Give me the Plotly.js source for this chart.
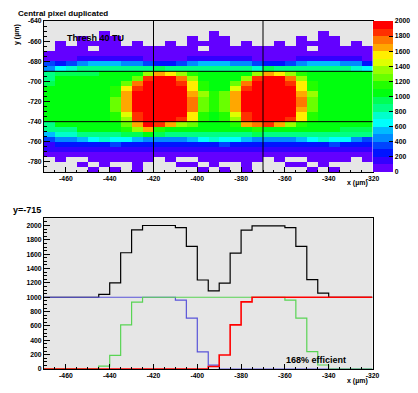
<!DOCTYPE html>
<html><head><meta charset="utf-8">
<script src="https://cdn.plot.ly/plotly-3.0.1.min.js"></script>
<style>html,body{margin:0;padding:0;background:#fff;}#chart{width:418px;height:393px;}</style>
</head><body><div id="chart"></div>
<script>
const _ = null;
// bin edges (µm)
const xEdges = [-470,-465,-460,-455,-450,-445,-440,-435,-430,-425,-420,-415,-410,-405,-400,-395,-390,-385,-380,-375,-370,-365,-360,-355,-350,-345,-340,-335,-330,-325,-320];
const yEdgesTopDown = [-640,-645,-650,-655,-660,-665,-670,-675,-680,-685,-690,-695,-700,-705,-710,-715,-720,-725,-730,-735,-740,-745,-750,-755,-760,-765,-770,-775,-780,-785,-790];
// heatmap contents, rows from top (y=-640) to bottom (y=-790)
const zRowsTopDown = [
[_,_,_,_,_,_,_,_,_,_, _,_,_,_,_,_,_,_,_,_, _,_,_,_,_,_,_,_,_,_],
[_,_,_,_,_,_,_,_,_,_, _,_,_,_,_,_,_,_,_,_, _,_,_,_,_,_,_,_,_,_],
[_,_,_,_,_,50,_,_,_,_, _,_,_,_,_,50,_,_,_,_, _,_,_,_,_,50,_,_,_,_],
[_,_,_,50,_,50,50,_,_,_, _,_,_,50,_,50,50,_,_,_, _,_,_,50,_,50,50,_,_,_],
[_,50,_,50,50,50,50,_,50,_, _,50,_,50,50,50,50,_,50,_, _,50,_,50,50,50,50,_,50,_],
[_,50,50,50,_,50,50,50,50,50, 50,50,50,50,_,50,50,50,50,50, 50,50,50,50,_,50,50,50,50,50],
[50,50,50,50,50,50,50,50,50,50, 50,50,50,50,50,50,50,50,50,50, 50,50,50,50,50,50,50,50,50,50],
[50,50,50,150,150,150,150,150,150,50, 50,50,50,150,150,150,150,150,150,50, 50,50,50,150,150,150,150,150,150,50],
[350,250,350,450,550,550,550,450,450,350, 250,250,350,450,550,550,550,450,450,350, 250,250,350,450,550,550,550,450,450,250],
[450,650,750,850,850,850,850,850,850,850, 950,850,850,850,850,850,850,850,850,750, 950,850,850,850,850,850,850,850,750,650],
[850,950,950,950,950,1050,1050,1050,1050,1350, 1650,1550,1350,1150,1050,1050,1050,1050,1050,1350, 1650,1550,1350,1150,1050,1050,1050,1050,1050,1050],
[850,1050,1050,1050,1050,1050,1050,1050,1250,1850, 1950,1950,1750,1350,1050,1050,1050,1050,1350,1850, 1950,1950,1750,1350,1050,1050,1050,1050,1050,1050],
[950,1050,1050,1050,1050,1050,1050,1250,1750,1950, 1950,1950,1850,1550,1150,1050,1050,1250,1750,1950, 1950,1950,1850,1550,1150,1050,1050,1050,1050,1050],
[1050,1050,1050,1050,1050,1050,1150,1550,1850,1950, 1950,1950,1950,1550,1150,1050,1050,1450,1850,1950, 1950,1950,1950,1550,1150,1050,1050,1050,1050,1050],
[1050,1050,1050,1050,1050,1050,1150,1650,1950,1950, 1950,1950,1950,1650,1350,1150,1250,1650,1950,1950, 1950,1950,1950,1650,1350,1050,1050,1050,1050,1050],
[1050,1050,1050,1050,1050,1050,1250,1650,1950,1950, 1950,1950,1950,1750,1250,1150,1250,1650,1950,1950, 1950,1950,1950,1750,1250,1050,1050,1050,1050,1050],
[1050,1050,1050,1050,1050,1050,1250,1650,1950,1950, 1950,1950,1950,1750,1250,1150,1250,1650,1950,1950, 1950,1950,1950,1750,1250,1050,1050,1050,1050,1050],
[1050,1050,1050,1050,1050,1050,1250,1650,1950,1950, 1950,1950,1950,1750,1250,1150,1250,1650,1950,1950, 1950,1950,1950,1650,1250,1050,1050,1050,1050,1050],
[1050,1050,1050,1050,1050,1050,1150,1450,1850,1950, 1950,1950,1950,1550,1150,1050,1150,1450,1850,1950, 1950,1950,1950,1550,1150,1050,1050,1050,1050,1050],
[1050,1050,1050,1050,1050,1050,1150,1350,1850,1950, 1950,1950,1850,1550,1150,1050,1150,1350,1850,1950, 1950,1950,1850,1550,1150,1050,1050,1050,1050,1050],
[850,1050,1050,1050,1050,1050,1050,1250,1650,1950, 1850,1650,1350,1250,1050,1050,1050,1150,1650,1750, 1850,1650,1350,1150,1050,1050,1050,1050,1050,1050],
[850,850,850,1050,1050,1050,1050,1150,1350,1650, 1150,1050,1050,1050,1050,1050,1050,1050,1050,1150, 1050,1050,1050,1050,1050,1050,1050,950,950,950],
[550,750,750,850,850,850,850,950,950,1050, 950,850,850,850,850,850,850,850,850,950, 850,850,850,850,850,850,850,850,850,850],
[350,450,450,550,650,750,650,650,550,450, 450,450,450,550,650,750,650,650,550,450, 450,450,450,550,650,750,650,650,450,350],
[150,250,250,250,250,250,350,250,250,250, 250,250,250,250,250,250,350,250,250,250, 250,250,250,250,250,250,350,250,250,250],
[150,150,150,150,150,150,150,150,150,150, 150,150,150,150,150,150,150,150,150,150, 150,150,150,150,150,150,150,150,150,150],
[50,50,50,50,50,50,50,50,50,50, 50,50,50,50,50,50,50,50,50,50, 50,50,50,50,50,50,50,50,50,50],
[_,50,_,_,50,50,50,50,50,50, _,50,_,_,50,50,50,50,50,50, _,50,_,_,50,50,50,50,_,50],
[_,_,_,50,_,50,_,_,50,_, _,_,50,50,_,50,_,_,50,_, _,_,50,50,_,50,_,_,_,_],
[_,_,_,_,50,_,50,_,50,_, _,_,_,_,50,_,50,_,50,_, _,_,_,_,50,_,50,_,_,_]
];
// ROOT pretty palette, 20 contour levels 0..2000
const bandColors = ['rgb(99,0,255)','rgb(51,0,255)','rgb(0,20,255)','rgb(0,68,255)','rgb(0,139,255)','rgb(0,187,255)','rgb(0,255,252)','rgb(0,255,204)','rgb(0,255,133)','rgb(0,255,85)','rgb(0,255,14)','rgb(34,255,0)','rgb(105,255,0)','rgb(153,255,0)','rgb(224,255,0)','rgb(255,238,0)','rgb(255,167,0)','rgb(255,119,0)','rgb(255,48,0)','rgb(255,0,0)'];
const colorTicks = [0,200,400,600,800,1000,1200,1400,1600,1800,2000];
const pixelEdgesX = [-420,-370];
const pixelEdgesY = [-690,-740];
const xTicks = [-460,-440,-420,-400,-380,-360,-340,-320];
const yTicksTop = [-780,-760,-740,-720,-700,-680,-660,-640];
const yTicksBottom = [0,200,400,600,800,1000,1200,1400,1600,1800,2000];
// profile at y=-715, per x bin
const sumValues =     [1000,1000,1000,1000,1000,1040,1200,1620,1940,2000,2000,2000,1970,1710,1240,1090,1196,1615,1935,1995,1995,1995,1970,1710,1245,1056,1000,1000,1000,1000];
const leftPixel =     [1000,1000,1000,1000,1000,1000,1000,1000,1000,1000,1000,1000,960,710,240,55,0,0,0,0,0,0,0,0,0,0,0,0,0,0];
const centralPixel =  [0,0,0,0,0,40,190,615,933,1000,1000,1000,1000,1000,1000,1000,1000,1000,1000,1000,1000,1000,961,709,242,56,0,0,0,0];
const rightPixel =    [0,0,0,0,0,0,0,0,0,0,0,0,0,0,0,35,196,615,935,1000,1000,1000,1000,1000,1000,1000,1000,1000,1000,1000];

const W = 418, H = 393;
const FONT = 'Liberation Sans, Arial, Helvetica, sans-serif';
const px = v => v / W, py = v => 1 - v / H;

const yEdgesAsc = yEdgesTopDown.slice().reverse();
const zAsc = zRowsTopDown.slice().reverse();
const cs = [];
bandColors.forEach((c, j) => { cs.push([j / 20, c]); cs.push([(j + 1) / 20, c]); });

const step = (vals) => vals.concat([vals[vals.length - 1]]);
const stepTrace = (vals, color, width) => ({
  type: 'scatter', mode: 'lines', x: xEdges, y: step(vals), xaxis: 'x2', yaxis: 'y2',
  line: {shape: 'hv', color: color, width: width}, hoverinfo: 'skip', showlegend: false
});

const traces = [
  {type: 'heatmap', x: xEdges, y: yEdgesAsc, z: zAsc, zmin: 0, zmax: 2000, colorscale: cs,
   xaxis: 'x', yaxis: 'y', hoverinfo: 'skip',
   colorbar: {x: px(373), xanchor: 'left', xpad: 0, y: py(172), yanchor: 'bottom', ypad: 0,
     len: 151, lenmode: 'pixels', thickness: 20, thicknessmode: 'pixels', outlinewidth: 0,
     tickmode: 'array', tickvals: colorTicks, ticktext: colorTicks.map(String),
     ticks: 'inside', ticklen: 4, tickcolor: 'black',
     tickfont: {family: FONT, size: 6.8, color: 'black', weight: 'bold'}}},
  stepTrace(sumValues, 'black', 1.2),
  stepTrace(leftPixel, 'rgb(89,84,217)', 1.2),
  stepTrace(centralPixel, 'rgb(89,212,84)', 1.2),
  stepTrace(rightPixel, 'rgb(255,0,0)', 1.6)
];

const tickFont = {family: FONT, size: 6.8, color: 'black', weight: 'bold'};
const xAxisBase = (anchor) => ({
  domain: [px(44), px(372.5)], range: [-470, -320], anchor: anchor,
  tickmode: 'array', tickvals: xTicks, ticktext: xTicks.map(String),
  ticks: 'inside', ticklen: 5, tickcolor: 'black', tickwidth: 1,
  minor: {tick0: -470, dtick: 5, ticks: 'inside', ticklen: 2.5, tickcolor: 'black', showgrid: false},
  showline: true, linecolor: 'black', linewidth: 1, mirror: true,
  showgrid: false, zeroline: false, tickfont: tickFont, fixedrange: true
});

const shapes = [];
pixelEdgesX.forEach(v => shapes.push({type: 'line', xref: 'x', yref: 'y domain', x0: v, x1: v, y0: 0, y1: 1, line: {color: 'black', width: 1}}));
pixelEdgesY.forEach(v => shapes.push({type: 'line', xref: 'x domain', yref: 'y', x0: 0, x1: 1, y0: v, y1: v, line: {color: 'black', width: 1}}));

const ann = (text, x, y, opts) => Object.assign({text: text, x: x, y: y, xref: 'paper', yref: 'paper',
  showarrow: false, xanchor: 'left', yanchor: 'middle',
  font: {family: FONT, size: 8, color: 'black', weight: 'bold'}}, opts || {});

const layout = {
  width: W, height: H, margin: {l: 0, r: 0, t: 0, b: 0},
  paper_bgcolor: 'white', plot_bgcolor: '#e6e6e6', showlegend: false,
  xaxis: xAxisBase('y'),
  yaxis: {domain: [py(172), py(21)], range: [-790, -640], anchor: 'x',
    tickmode: 'array', tickvals: yTicksTop, ticktext: yTicksTop.map(String),
    ticks: 'inside', ticklen: 6, tickcolor: 'black',
    minor: {tick0: -790, dtick: 5, ticks: 'inside', ticklen: 3, tickcolor: 'black', showgrid: false},
    showline: true, linecolor: 'black', linewidth: 1, mirror: true,
    showgrid: false, zeroline: false, tickfont: tickFont, fixedrange: true},
  xaxis2: xAxisBase('y2'),
  yaxis2: {domain: [py(369), py(218.3)], range: [0, 2100], anchor: 'x2',
    tickmode: 'array', tickvals: yTicksBottom, ticktext: yTicksBottom.map(String),
    ticks: 'inside', ticklen: 6, tickcolor: 'black',
    minor: {tick0: 0, dtick: 50, ticks: 'inside', ticklen: 3, tickcolor: 'black', showgrid: false},
    showline: true, linecolor: 'black', linewidth: 1, mirror: true,
    showgrid: false, zeroline: false, tickfont: tickFont, fixedrange: true},
  shapes: shapes,
  annotations: [
    ann('Central pixel duplicated', px(16), py(13.3), {font: {family: FONT, size: 8, color: 'black', weight: 'bold'}}),
    ann('Thresh 40 TU', -460.5, -656.5, {xref: 'x', yref: 'y', font: {family: FONT, size: 9, color: 'black', weight: 'bold'}}),
    ann('y (µm)', px(17.5), py(22), {xanchor: 'center', yanchor: 'top', textangle: -90, font: {family: FONT, size: 7, color: 'black', weight: 'bold'}}),
    ann('x (µm)', px(370), py(183.3), {xanchor: 'right', font: {family: FONT, size: 7, color: 'black', weight: 'bold'}}),
    ann('y=-715', px(11), py(210), {font: {family: FONT, size: 9, color: 'black', weight: 'bold'}}),
    ann('x (µm)', px(370), py(381), {xanchor: 'right', font: {family: FONT, size: 7, color: 'black', weight: 'bold'}}),
    ann('168% efficient', -360.6, 119, {xref: 'x2', yref: 'y2', font: {family: FONT, size: 9, color: 'black', weight: 'bold'}})
  ]
};

Plotly.newPlot('chart', traces, layout, {staticPlot: true, displayModeBar: false});
</script>
</body></html>
